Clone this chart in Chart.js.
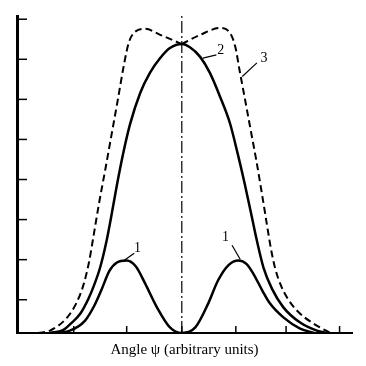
<!DOCTYPE html>
<html>
<head>
<meta charset="utf-8">
<script src="https://cdn.jsdelivr.net/npm/chart.js@4.4.0/dist/chart.umd.min.js"></script>
<style>
html, body { margin: 0; padding: 0; background: #fff; }
</style>
</head>
<body>
<canvas id="chart" width="366" height="366"></canvas>
<script>
// angle in tick units (0 = centre line), intensity in tick units
const curve1 = [
    { x: -2.40, y: 0 }, { x: -2.07, y: 0.06 }, { x: -1.79, y: 0.31 }, { x: -1.62, y: 0.68 },
    { x: -1.48, y: 1.10 }, { x: -1.34, y: 1.55 }, { x: -1.20, y: 1.76 }, { x: -1.02, y: 1.81 },
    { x: -0.85, y: 1.66 }, { x: -0.68, y: 1.24 }, { x: -0.46, y: 0.64 }, { x: -0.22, y: 0.14 },
    { x: 0, y: 0 }, { x: 0.25, y: 0.14 }, { x: 0.49, y: 0.74 }, { x: 0.67, y: 1.31 },
    { x: 0.86, y: 1.69 }, { x: 1.05, y: 1.81 }, { x: 1.20, y: 1.72 }, { x: 1.32, y: 1.49 },
    { x: 1.49, y: 1.06 }, { x: 1.63, y: 0.74 }, { x: 1.88, y: 0.39 }, { x: 2.19, y: 0.11 },
    { x: 2.45, y: 0 }
];
const curve2 = [
    { x: -2.44, y: 0 }, { x: -2.20, y: 0.07 }, { x: -2.05, y: 0.24 }, { x: -1.88, y: 0.48 },
    { x: -1.73, y: 0.85 }, { x: -1.63, y: 1.17 }, { x: -1.51, y: 1.64 }, { x: -1.40, y: 2.25 },
    { x: -1.30, y: 2.95 }, { x: -1.20, y: 3.70 }, { x: -1.09, y: 4.45 }, { x: -0.96, y: 5.20 },
    { x: -0.77, y: 5.99 }, { x: -0.59, y: 6.49 }, { x: -0.40, y: 6.86 }, { x: -0.22, y: 7.11 },
    { x: 0, y: 7.21 }, { x: 0.15, y: 7.13 }, { x: 0.34, y: 6.89 }, { x: 0.52, y: 6.49 },
    { x: 0.71, y: 5.89 }, { x: 0.89, y: 5.24 }, { x: 1.03, y: 4.50 }, { x: 1.16, y: 3.75 },
    { x: 1.28, y: 3.00 }, { x: 1.39, y: 2.30 }, { x: 1.51, y: 1.64 }, { x: 1.67, y: 1.10 },
    { x: 1.88, y: 0.64 }, { x: 2.19, y: 0.26 }, { x: 2.50, y: 0.06 }, { x: 2.69, y: 0 }
];
// dashed curve 3, split at the centre so the notch stays sharp
const curve3Left = [
    { x: -2.66, y: 0 }, { x: -2.44, y: 0.06 }, { x: -2.12, y: 0.39 }, { x: -1.95, y: 0.75 },
    { x: -1.82, y: 1.20 }, { x: -1.72, y: 1.75 }, { x: -1.63, y: 2.45 }, { x: -1.53, y: 3.25 },
    { x: -1.42, y: 4.05 }, { x: -1.30, y: 4.95 }, { x: -1.18, y: 5.85 }, { x: -1.07, y: 6.70 },
    { x: -0.98, y: 7.25 }, { x: -0.87, y: 7.51 }, { x: -0.68, y: 7.59 }, { x: -0.40, y: 7.44 },
    { x: 0, y: 7.21 }
];
const curve3Right = [
    { x: 0, y: 7.21 }, { x: 0.34, y: 7.44 }, { x: 0.71, y: 7.61 }, { x: 0.89, y: 7.49 },
    { x: 0.99, y: 7.14 }, { x: 1.07, y: 6.55 }, { x: 1.16, y: 5.90 }, { x: 1.27, y: 5.10 },
    { x: 1.38, y: 4.30 }, { x: 1.48, y: 3.50 }, { x: 1.57, y: 2.75 }, { x: 1.65, y: 2.10 },
    { x: 1.73, y: 1.60 }, { x: 1.83, y: 1.20 }, { x: 1.95, y: 0.88 }, { x: 2.13, y: 0.56 },
    { x: 2.43, y: 0.24 }, { x: 2.75, y: 0 }
];
const centreLine = [{ x: 0, y: 0 }, { x: 0, y: 7.91 }];

const xTickValues = [-2.0, -1.02, 0, 1.0, 1.93, 2.92];
const yTickValues = [0.83, 1.83, 2.83, 3.83, 4.83, 5.83, 6.83, 7.83];

// curve numbers with their leader lines (text pos, line start, line end)
const curveLabels = [
    { text: '1', at: [-0.82, 2.11], from: [-0.88, 1.99], to: [-1.07, 1.81] },
    { text: '1', at: [0.81, 2.38], from: [0.93, 2.19], to: [1.08, 1.84] },
    { text: '2', at: [0.72, 7.06], from: [0.64, 6.94], to: [0.39, 6.86] },
    { text: '3', at: [1.52, 6.86], from: [1.39, 6.74], to: [1.12, 6.40] }
];

const inkPlugin = {
    id: 'ink',
    afterDatasetsDraw(chart) {
        const ctx = chart.ctx;
        const xs = chart.scales.x;
        const ys = chart.scales.y;
        ctx.save();
        ctx.strokeStyle = '#000';
        ctx.fillStyle = '#000';
        ctx.lineWidth = 1.5;
        yTickValues.forEach(v => {
            const py = ys.getPixelForValue(v);
            ctx.beginPath();
            ctx.moveTo(xs.left, py);
            ctx.lineTo(xs.left + 10, py);
            ctx.stroke();
        });
        xTickValues.forEach(v => {
            const px = xs.getPixelForValue(v);
            ctx.beginPath();
            ctx.moveTo(px, ys.bottom);
            ctx.lineTo(px, ys.bottom - 7);
            ctx.stroke();
        });
        ctx.lineWidth = 1.2;
        ctx.font = '14px "Liberation Serif"';
        ctx.textAlign = 'center';
        ctx.textBaseline = 'middle';
        curveLabels.forEach(l => {
            ctx.beginPath();
            ctx.moveTo(xs.getPixelForValue(l.from[0]), ys.getPixelForValue(l.from[1]));
            ctx.lineTo(xs.getPixelForValue(l.to[0]), ys.getPixelForValue(l.to[1]));
            ctx.stroke();
            ctx.fillText(l.text, xs.getPixelForValue(l.at[0]), ys.getPixelForValue(l.at[1]));
        });
        ctx.restore();
    }
};

const solid = { borderColor: '#000', borderWidth: 2.5, pointRadius: 0, fill: false, cubicInterpolationMode: 'monotone' };
const dashed = { borderColor: '#000', borderWidth: 2, borderDash: [7, 4], pointRadius: 0, fill: false, cubicInterpolationMode: 'monotone' };

new Chart(document.getElementById('chart'), {
    type: 'line',
    data: {
        datasets: [
            { label: 'centre', data: centreLine, borderColor: '#000', borderWidth: 1.2, borderDash: [12, 3, 2, 3], pointRadius: 0 },
            { label: '1', data: curve1, ...solid },
            { label: '2', data: curve2, ...solid },
            { label: '3', data: curve3Left, ...dashed },
            { label: '3', data: curve3Right, ...dashed }
        ]
    },
    options: {
        responsive: false,
        animation: false,
        layout: { padding: { left: 17, right: 14, top: 16, bottom: 5 } },
        plugins: { legend: { display: false }, tooltip: { enabled: false } },
        scales: {
            x: {
                type: 'linear',
                min: -3.05,
                max: 3.15,
                grid: { display: false, drawTicks: false },
                border: { display: true, color: '#000', width: 2 },
                ticks: { display: false },
                title: {
                    display: true,
                    text: 'Angle ψ (arbitrary units)',
                    color: '#000',
                    font: { family: '"Liberation Serif"', size: 15 },
                    padding: { top: 8, bottom: 2 }
                }
            },
            y: {
                type: 'linear',
                min: 0,
                max: 7.91,
                grid: { display: false, drawTicks: false },
                border: { display: true, color: '#000', width: 3 },
                ticks: { display: false }
            }
        }
    },
    plugins: [inkPlugin]
});
</script>
</body>
</html>
